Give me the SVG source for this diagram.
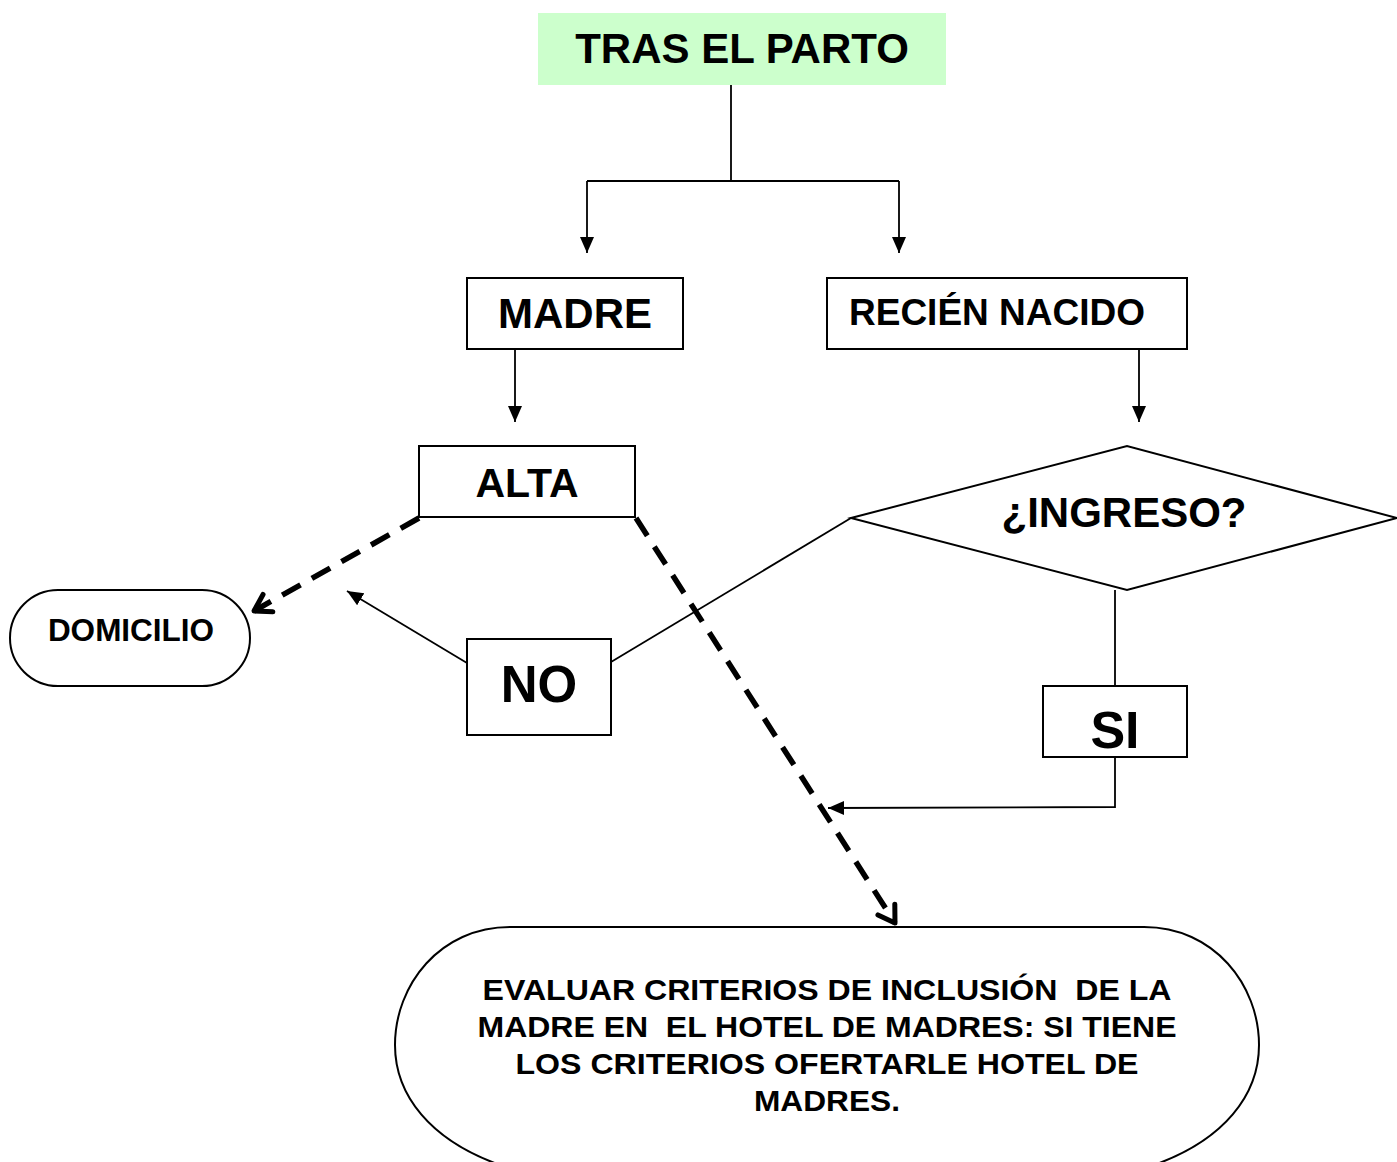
<svg xmlns="http://www.w3.org/2000/svg" width="1397" height="1162" viewBox="0 0 1397 1162">
<style>
  .box { fill: #ffffff; stroke: #000000; stroke-width: 2; }
  .lbl { font-family: "Liberation Sans", Arial, sans-serif; font-weight: bold; fill: #000000; text-anchor: middle; }
  .thin { fill: none; stroke: #000000; stroke-width: 1.8; }
  .dash { fill: none; stroke: #000000; stroke-width: 5.5; stroke-dasharray: 21 13; }
  .pre { white-space: pre; }
</style>
<defs>
  <marker id="tri" markerUnits="userSpaceOnUse" markerWidth="18" markerHeight="18" viewBox="0 0 18 18" refX="16" refY="9" orient="auto">
    <path d="M0,2 L16,9 L0,16 Z" fill="#000"/>
  </marker>
  <marker id="chev" markerUnits="userSpaceOnUse" markerWidth="30" markerHeight="30" viewBox="0 0 30 30" refX="25" refY="15" orient="auto">
    <path d="M9,5 L25,15 L9,25" fill="none" stroke="#000" stroke-width="5" stroke-linecap="round" stroke-linejoin="round"/>
  </marker>
</defs>

<g id="connectors">
  <path class="thin" d="M731,85 V181"/>
  <path class="thin" d="M587,181 H899"/>
  <path class="thin" d="M587,181 V253" marker-end="url(#tri)"/>
  <path class="thin" d="M899,181 V253" marker-end="url(#tri)"/>
  <path class="thin" d="M515,349 V422" marker-end="url(#tri)"/>
  <path class="thin" d="M1139,349 V422" marker-end="url(#tri)"/>
  <path class="thin" d="M851,518 L611,662"/>
  <path class="thin" d="M467,663 L347,591" marker-end="url(#tri)"/>
  <path class="thin" d="M1115,590 V686"/>
  <path class="thin" d="M1115,757 V807 L828,808" marker-end="url(#tri)"/>
  <path class="dash" d="M419,518 L254,611" marker-end="url(#chev)"/>
  <path class="dash" d="M636,518 L895,923" marker-end="url(#chev)"/>
</g>

<g id="tras-el-parto">
  <rect x="538" y="13" width="408" height="72" fill="#ccffcc"/>
  <text class="lbl" x="742" y="63" font-size="42">TRAS EL PARTO</text>
</g>

<g id="madre">
  <rect class="box" x="467" y="278" width="216" height="71"/>
  <text class="lbl" x="575" y="328" font-size="42">MADRE</text>
</g>

<g id="recien-nacido">
  <rect class="box" x="827" y="278" width="360" height="71"/>
  <text class="lbl" x="997" y="325" font-size="37">RECIÉN NACIDO</text>
</g>

<g id="alta">
  <rect class="box" x="419" y="446" width="216" height="71"/>
  <text class="lbl" x="527" y="497" font-size="41">ALTA</text>
</g>

<g id="ingreso">
  <polygon class="box" points="851,518 1127,446 1397,518 1127,590"/>
  <text class="lbl" x="1124" y="527" font-size="42">¿INGRESO?</text>
</g>

<g id="no">
  <rect class="box" x="467" y="639" width="144" height="96"/>
  <text class="lbl" x="539" y="702" font-size="51">NO</text>
</g>

<g id="si">
  <rect class="box" x="1043" y="686" width="144" height="71"/>
  <text class="lbl" x="1115" y="748" font-size="52">SI</text>
</g>

<g id="domicilio">
  <rect class="box" x="10" y="590" width="240" height="96" rx="48" ry="48"/>
  <text class="lbl" x="131" y="641" font-size="31.5">DOMICILIO</text>
</g>

<g id="evaluar">
  <path class="box" d="M500,1165 C430,1140 395,1095 395,1045 C395,985 440,927 510,927 L1144,927 C1214,927 1259,985 1259,1045 C1259,1095 1224,1140 1154,1165"/>
  <text class="lbl pre" x="827" y="1000" font-size="30" textLength="689" lengthAdjust="spacingAndGlyphs">EVALUAR CRITERIOS DE INCLUSIÓN  DE LA</text>
  <text class="lbl pre" x="827" y="1037" font-size="30" textLength="699" lengthAdjust="spacingAndGlyphs">MADRE EN  EL HOTEL DE MADRES: SI TIENE</text>
  <text class="lbl" x="827" y="1074" font-size="30" textLength="623" lengthAdjust="spacingAndGlyphs">LOS CRITERIOS OFERTARLE HOTEL DE</text>
  <text class="lbl" x="827" y="1111" font-size="30" textLength="146" lengthAdjust="spacingAndGlyphs">MADRES.</text>
</g>
</svg>
